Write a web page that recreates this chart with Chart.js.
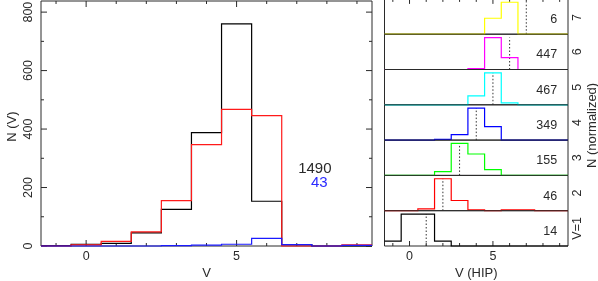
<!DOCTYPE html>
<html>
<head>
<meta charset="utf-8">
<script src="https://cdn.jsdelivr.net/npm/chart.js@4.4.0/dist/chart.umd.min.js"></script>
<style>
  html, body { margin: 0; padding: 0; background: #fff; }
  #wrap { position: relative; width: 598px; height: 281px; overflow: hidden; }
  #wrap canvas { position: absolute; left: 0; }
</style>
</head>
<body>
<div id="wrap"></div>
<script>
// ---- left panel: N(V) ----
const binCenters = [-1, 0, 1, 2, 3, 4, 5, 6, 7, 8, 9];
const nBlack = [1, 6, 9, 45, 125, 388, 760, 153, 5, 0, 0];
const nRed   = [0, 4, 16, 48, 155, 347, 467, 446, 0, 0, 4];
const nBlue  = [0, 0, 0, 0, 1, 3, 6, 26, 5, 0, 2];
const totalBlack = '1490';
const totalBlue = '43';
const vTickLabels = [0, 5];
const nTickLabels = [0, 200, 400, 600, 800];

// ---- right panels: V(HIP) per V class, normalized (bottom to top) ----
const classNames = ['V=1', '2', '3', '4', '5', '6', '7'];
const classCounts = ['14', '46', '155', '349', '467', '447', '6'];
const classV = [1, 2, 3, 4, 5, 6, 7];
const hip1 = [0.15, 1, 1, 0.15, 0, 0, 0, 0, 0, 0, 0];
const hip2 = [0, 0, 0.06, 1, 0.32, 0.03, 0, 0.03, 0.03, 0, 0];
const hip3 = [0, 0, 0, 0.12, 1, 0.67, 0.18, 0, 0, 0, 0];
const hip4 = [0, 0, 0, 0.02, 0.17, 1, 0.42, 0, 0, 0, 0];
const hip5 = [0, 0, 0, 0, 0, 0.28, 1, 0.06, 0, 0, 0];
const hip6 = [0, 0, 0, 0, 0, 0.03, 1, 0.37, 0, 0, 0];
const hip7 = [0, 0, 0, 0, 0, 0, 0.5, 1, 0, 0, 0];
const hipSets = [hip1, hip2, hip3, hip4, hip5, hip6, hip7];

const FONT = '"Liberation Sans", Arial, sans-serif';
const INK = '#2a2a2a';
const hipColors = ['#000000', '#ff0000', '#00ff00', '#0000ff', '#00ffff', '#ff00ff', '#ffff00'];

const wrap = document.getElementById('wrap');

function histPoints(centers, vals) {
  const pts = centers.map((c, i) => ({ x: c - 0.5, y: vals[i] }));
  pts.push({ x: centers[centers.length - 1] + 0.5, y: vals[vals.length - 1] });
  return pts;
}

function histSet(vals, color) {
  return {
    data: histPoints(binCenters, vals),
    borderColor: color,
    borderWidth: 1.2,
    pointRadius: 0,
    stepped: true,
    fill: false,
    clip: false
  };
}

function rotText(ctx, txt, px, py) {
  ctx.save();
  ctx.translate(px, py);
  ctx.rotate(-Math.PI / 2);
  ctx.fillText(txt, 0, 0);
  ctx.restore();
}

// frame + inward ticks, then extra text
function framePlugin(cfg, drawText) {
  return {
    id: 'frame',
    beforeDatasetsDraw(chart) {
      const { ctx, chartArea: a } = chart;
      const xs = chart.scales.x, ys = chart.scales.y;
      ctx.save();
      ctx.strokeStyle = INK;
      ctx.lineWidth = 1;
      ctx.beginPath();
      ctx.rect(a.left, a.top, a.right - a.left, a.bottom - a.top);
      (cfg.xTicks || []).forEach(v => {
        const px = xs.getPixelForValue(v);
        const len = cfg.xMajor.includes(v) ? cfg.major : cfg.minor;
        cfg.xSides.forEach(s => {
          const y0 = s === 'top' ? a.top : a.bottom;
          ctx.moveTo(px, y0);
          ctx.lineTo(px, s === 'top' ? y0 + len : y0 - len);
        });
      });
      (cfg.yTicks || []).forEach(v => {
        const py = ys.getPixelForValue(v);
        const len = cfg.yMajor.includes(v) ? cfg.major : cfg.minor;
        cfg.ySides.forEach(s => {
          const x0 = s === 'left' ? a.left : a.right;
          ctx.moveTo(x0, py);
          ctx.lineTo(s === 'left' ? x0 + len : x0 - len, py);
        });
      });
      ctx.stroke();
      ctx.restore();
    },
    afterDatasetsDraw(chart) {
      const ctx = chart.ctx;
      ctx.save();
      ctx.fillStyle = INK;
      ctx.textBaseline = 'middle';
      drawText(chart, ctx);
      ctx.restore();
    }
  };
}

function makeCanvas(top, h) {
  const c = document.createElement('canvas');
  c.width = 598;
  c.height = h;
  c.style.top = top + 'px';
  wrap.appendChild(c);
  return c;
}

const baseOptions = (ymax, pad) => ({
  responsive: false,
  animation: false,
  devicePixelRatio: 1,
  layout: { padding: pad },
  plugins: { legend: { display: false }, tooltip: { enabled: false } },
  scales: {
    x: { type: 'linear', min: -1.5, max: 9.5, display: false },
    y: { type: 'linear', min: 0, max: ymax, display: false }
  }
});

const intTicks = [-1, 0, 1, 2, 3, 4, 5, 6, 7, 8, 9];

// ---- left chart ----
// Chart.js paints the first dataset last, so blue goes first to end up on top
new Chart(makeCanvas(0, 281), {
  type: 'line',
  data: { datasets: [histSet(nBlue, '#1a1aff'), histSet(nRed, '#ff1a1a'), histSet(nBlack, '#000')] },
  options: baseOptions(838, { left: 41, right: 226, top: 1, bottom: 35 }),
  plugins: [framePlugin({
    xTicks: intTicks, xMajor: vTickLabels, xSides: ['top', 'bottom'],
    yTicks: [0, 100, 200, 300, 400, 500, 600, 700, 800], yMajor: nTickLabels, ySides: ['left', 'right'],
    major: 6, minor: 3
  }, (chart, ctx) => {
    const a = chart.chartArea, xs = chart.scales.x, ys = chart.scales.y;
    ctx.font = '12.5px ' + FONT;
    ctx.textAlign = 'center';
    vTickLabels.forEach(v => ctx.fillText(String(v), xs.getPixelForValue(v), a.bottom + 11));
    nTickLabels.forEach(v => rotText(ctx, String(v), a.left - 12, ys.getPixelForValue(v)));
    ctx.font = '13px ' + FONT;
    ctx.fillText('V', (a.left + a.right) / 2, a.bottom + 27);
    rotText(ctx, 'N (V)', 12, (a.top + a.bottom) / 2 + 3);
    ctx.font = '15px ' + FONT;
    ctx.fillText(totalBlack, xs.getPixelForValue(7.6), ys.getPixelForValue(263));
    ctx.fillStyle = '#2a2aff';
    ctx.fillText(totalBlue, xs.getPixelForValue(7.75), ys.getPixelForValue(216));
  })]
});

// ---- right panels ----
const PANEL_H = 35.3, PANEL_BOTTOM = 246, OFF = 5;
const overallTop = PANEL_BOTTOM - 7 * PANEL_H;

for (let k = 6; k >= 0; k--) {
  const bottom = PANEL_BOTTOM - k * PANEL_H;
  const top = bottom - PANEL_H;
  const isTop = k === 6, isBottom = k === 0;
  new Chart(makeCanvas(-OFF, 281 + 2 * OFF), {
    type: 'line',
    data: {
      datasets: [
        histSet(hipSets[k], hipColors[k]),
        {
          data: [{ x: classV[k], y: 0 }, { x: classV[k], y: Math.max(...hipSets[k]) }],
          borderColor: '#333',
          borderWidth: 1,
          borderDash: [1.5, 2],
          pointRadius: 0,
          clip: false
        }
      ]
    },
    options: baseOptions(1.105, { left: 384.5, right: 30, top: top + OFF, bottom: 281 + OFF - bottom }),
    plugins: [framePlugin({
      xTicks: (isTop || isBottom) ? intTicks : [], xMajor: vTickLabels,
      xSides: isTop ? ['top'] : ['bottom'],
      yTicks: [], yMajor: [], ySides: [],
      major: 5, minor: 3
    }, (chart, ctx) => {
      const a = chart.chartArea, xs = chart.scales.x;
      const mid = (Math.max(a.top, OFF + 1) + a.bottom) / 2;
      ctx.font = '12.5px ' + FONT;
      ctx.textAlign = 'right';
      ctx.fillText(classCounts[k], xs.getPixelForValue(8.85), (a.top + a.bottom) / 2 + 3);
      ctx.textAlign = 'center';
      rotText(ctx, classNames[k], a.right + 10, mid);
      if (isBottom) {
        vTickLabels.forEach(v => ctx.fillText(String(v), xs.getPixelForValue(v), a.bottom + 11));
        ctx.font = '13px ' + FONT;
        ctx.fillText('V (HIP)', (a.left + a.right) / 2, a.bottom + 27);
        rotText(ctx, 'N (normalized)', a.right + 24, (overallTop + PANEL_BOTTOM) / 2 + OFF + 3);
      }
    })]
  });
}
</script>
</body>
</html>
